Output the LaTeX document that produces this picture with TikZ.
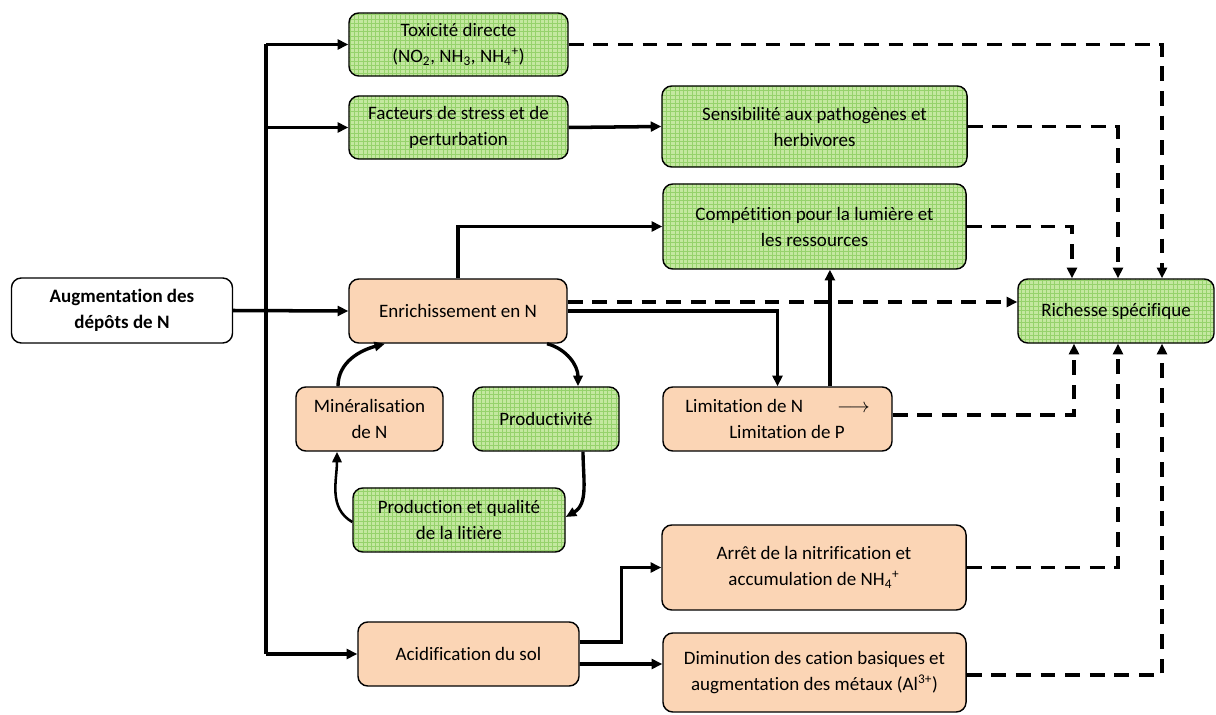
\documentclass[tikz,border=0pt]{standalone}
\usepackage{fontspec}
\setmainfont{Carlito}[Ligatures=NoCommon]
\usetikzlibrary{arrows.meta, patterns}

\definecolor{boxorange}{RGB}{251,213,181}
\definecolor{boxgreen}{RGB}{196,232,160}
\definecolor{gridgreen}{RGB}{150,210,108}

\tikzset{
    box/.style={draw, line width=1pt, rounded corners=7pt, align=center, inner sep=0pt,
        font=\fontsize{13.5}{18.5}\selectfont},
    obox/.style={box, fill=boxorange},
    gbox/.style={box, preaction={fill=boxgreen}, pattern=grid, pattern color=gridgreen},
    arr/.style={line width=2.5pt, -{Triangle[length=7.5pt,width=7pt]}},
    darr/.style={arr, dash pattern=on 10.5pt off 7pt},
    curv/.style={line width=2.4pt, -{Triangle[length=7.5pt,width=6.5pt]}}
}

\begin{document}
\begin{tikzpicture}[x=0.025cm, y=-0.025cm]
        \useasboundingbox (0,0) rectangle (1216,715);

        \node[box, fill=white, minimum width=5.525cm, minimum height=1.625cm, font=\fontsize{13.5}{18.5}\selectfont\bfseries] (augm) at (122,310.5) {Augmentation des\\dépôts de N};

        \node[gbox, minimum width=5.475cm, minimum height=1.575cm] (tox) at (458.5,44.5) {Toxicité directe\\(NO\textsubscript{2}, NH\textsubscript{3}, NH\textsubscript{4}\textsuperscript{+})};
        \node[gbox, minimum width=5.475cm, minimum height=1.575cm] (fact) at (458.5,127.5) {Facteurs de stress et de\\perturbation};
        \node[gbox, minimum width=7.625cm, minimum height=2.025cm] (sens) at (814.5,126.5) {Sensibilité aux pathogènes et\\herbivores};
        \node[gbox, minimum width=7.575cm, minimum height=2.125cm] (comp) at (814.5,226.5) {Compétition pour la lumière et\\les ressources};
        \node[obox, minimum width=5.45cm, minimum height=1.6cm] (enr) at (458,311) {Enrichissement en N};
        \node[gbox, minimum width=4.9cm, minimum height=1.6cm] (rich) at (1116,311) {Richesse spécifique};

        \node[obox, minimum width=3.675cm, minimum height=1.6cm] (mine) at (369.5,419) {Minéralisation\\de N};
        \node[gbox, minimum width=3.65cm, minimum height=1.6cm] (prodv) at (546,419) {Productivité};
        \node[obox, minimum width=5.725cm, minimum height=1.6cm, align=left] (lim) at (777.5,419) {Limitation de N\hspace{0.85cm}$\longrightarrow$\\\hspace{1.1cm}Limitation de P};
        \node[gbox, minimum width=5.3cm, minimum height=1.6cm] (litter) at (459,520) {Production et qualité\\de la litière};

        \node[obox, minimum width=7.6cm, minimum height=2.125cm] (arret) at (814,567.5) {Arrêt de la nitrification et\\accumulation de NH\textsubscript{4}\textsuperscript{+}};
        \node[obox, minimum width=5.525cm, minimum height=1.6cm] (acid) at (468.5,654) {Acidification du sol};
        \node[obox, minimum width=7.575cm, minimum height=1.975cm] (dim) at (814.5,672.5) {Diminution des cation basiques et\\augmentation des métaux (Al\textsuperscript{3+})};

        % trunk from the deposits
        \coordinate (ttop) at (266,44.5);
        \coordinate (tbot) at (266,654);
        \draw[line width=2.5pt] (ttop) -- (tbot);
        \draw[arr] (ttop) -- (tox.west);
        \draw[arr] (ttop |- fact.west) -- (fact.west);
        \draw[arr] (augm.east) -- (enr.west);
        \draw[arr] (tbot) -- (acid.west);

        \draw[arr] (fact.east) -- (sens.west);
        \draw[arr] (enr.north) |- (comp.west);
        \draw[arr] (enr.east) -| (lim.north);
        \coordinate (lc) at ([xshift=1.31cm]lim.north);
        \draw[arr] (lc) -- (lc |- comp.south);

        \draw[arr] ([yshift=0.3cm]acid.east) -- ++(42,0) |- (arret.west);
        \draw[arr] ([yshift=-0.25cm]acid.east) -- ([yshift=0.2125cm]dim.west);

        % nitrogen cycle
        \draw[curv] ([xshift=-0.7875cm]mine.north) to[out=90, in=195] ([xshift=-1.825cm]enr.south);
        \draw[curv] ([xshift=2.225cm]enr.south) to[out=-15, in=90] ([xshift=0.8cm]prodv.north);
        \draw[curv] ([xshift=0.925cm]prodv.south) to[out=-90, in=30] ([yshift=0.075cm]litter.east);
        \draw[line width=1.8pt, -{Triangle[length=7.5pt,width=6.5pt]}] ([yshift=-0.05cm]litter.west) to[out=150, in=-90] ([xshift=-0.8125cm]mine.south);

        % dashed effects on richness
        \draw[darr] ([yshift=0.225cm]enr.east) -- ([yshift=0.225cm]rich.west);
        \draw[darr] (tox.east) -| ([xshift=1.15cm]rich.north);
        \draw[darr] (sens.east) -| ([xshift=0.05cm]rich.north);
        \draw[darr] (comp.east) -| ([xshift=-1.1cm]rich.north);
        \draw[darr] ([yshift=0.1cm]lim.east) -| ([xshift=-1.05cm]rich.south);
        \draw[darr] (arret.east) -| ([xshift=0.05cm]rich.south);
        \draw[darr] ([yshift=-0.0625cm]dim.east) -| ([xshift=1.15cm]rich.south);
    \end{tikzpicture}
\end{document}
